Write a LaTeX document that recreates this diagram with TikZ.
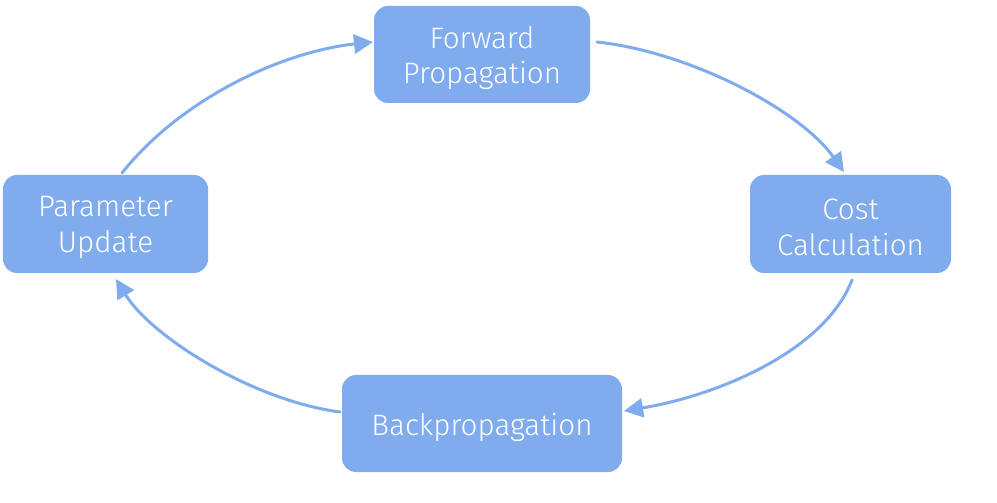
\documentclass[tikz,border=0pt]{standalone}
\usepackage{fontspec}
\setmainfont{Fira Sans}[UprightFont=* Light]
\usetikzlibrary{arrows.meta}
\definecolor{boxblue}{RGB}{128,172,238}
\tikzset{
  stagebox/.style={fill=boxblue, draw=none, rounded corners=14bp, inner sep=0pt},
  stagetext/.style={text=white, font=\fontsize{29.7}{36}\selectfont, align=center, inner sep=0pt},
  cyclearrow/.style={draw=boxblue, line width=3bp, line cap=round,
    -{Triangle[length=19bp,width=19bp]}}
}
\begin{document}
\begin{tikzpicture}[x=1bp,y=-1bp]
\useasboundingbox (0,0) rectangle (997,503);
\node[stagebox, minimum width=216bp, minimum height=97bp] (fp) at (482,54.5) {};
\node[stagebox, minimum width=201bp, minimum height=98bp] (cc) at (850.5,224) {};
\node[stagebox, minimum width=280bp, minimum height=97bp] (bp) at (482,423.5) {};
\node[stagebox, minimum width=205bp, minimum height=98bp] (pu) at (105.5,224) {};
\node[stagetext] (fpt) at ([yshift=-3.5bp]fp.center) {Forward\\Propagation};
\node[stagetext] (cct) at ([yshift=-3.5bp]cc.center) {Cost\\Calculation};
\node[stagetext] (bpt) at ([yshift=-4bp]bp.center) {Backpropagation};
\node[stagetext] (put) at ([yshift=-3.5bp]pu.center) {Parameter\\Update};
\coordinate (a1s) at (122,173);
\coordinate (a2s) at (597,42);
\coordinate (a3s) at (852,280);
\coordinate (a4s) at (340,412);
\coordinate (a1e) at (373,42);
\coordinate (a2e) at (844,172);
\coordinate (a3e) at (624,411);
\coordinate (a4e) at (116,279);
\draw[cyclearrow] (a1s) .. controls (180,100) and (280,52) .. (a1e);
\draw[cyclearrow] (a2s) .. controls (690,52) and (800,110) .. (a2e);
\draw[cyclearrow] (a3s) .. controls (825,350) and (720,395) .. (a3e);
\draw[cyclearrow] (a4s) .. controls (250,400) and (150,335) .. (a4e);
\end{tikzpicture}
\end{document}
